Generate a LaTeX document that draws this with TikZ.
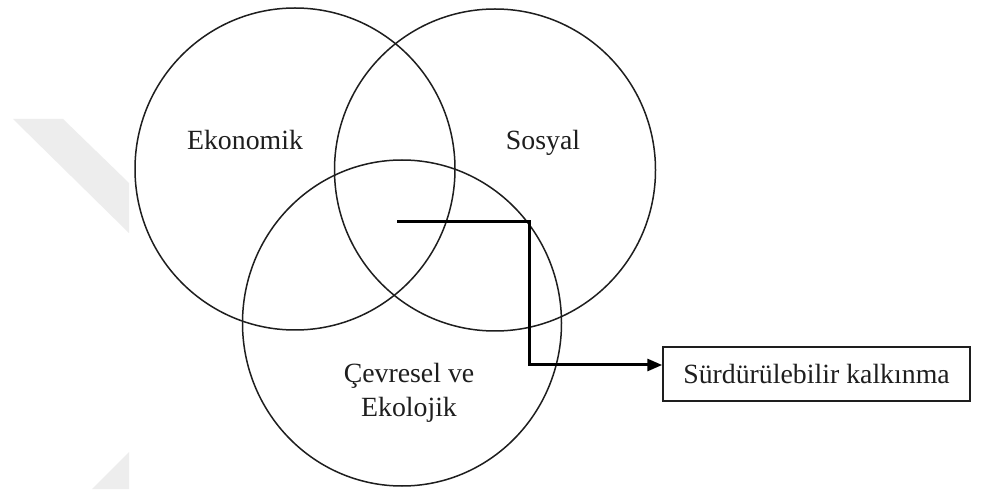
\documentclass[tikz,border=0pt]{standalone}
\usepackage{fontspec}
\setmainfont{Liberation Serif}
\usetikzlibrary{arrows.meta,shapes.geometric}
\definecolor{wm}{HTML}{EDEDED}
\definecolor{ink}{HTML}{1E1E1E}
\begin{document}
\begin{tikzpicture}[x=1pt,y=-1pt,
  ring/.style={draw=ink,line width=1.5pt,ellipse,inner sep=0pt},
  lbl/.style={text=ink,font=\fontsize{27.8}{34}\selectfont,inner sep=0pt,align=center},
  resultbox/.style={draw=ink,line width=1.5pt,minimum width=307pt,minimum height=54pt,inner sep=0pt,text=ink,font=\fontsize{27.8}{34}\selectfont},
  link/.style={draw=black,line width=3pt,-{Triangle[length=15pt,width=12pt]}}]
\useasboundingbox (0,0) rectangle (983,494);
\fill[white] (0,0) rectangle (983,494);
% faint watermark
\fill[wm] (13,119) -- (63,119) -- (129,183) -- (129,233) -- cycle;
\fill[wm] (92,489) -- (129,452) -- (129,489) -- cycle;
% circles
\node[ring,minimum width=320pt,minimum height=322pt] (eko) at (295,169) {};
\node[ring,minimum width=321pt,minimum height=322pt] (sos) at (495,170) {};
\node[ring,minimum width=319pt,minimum height=326pt] (cev) at (402,323) {};
% labels
\node[lbl,anchor=base] (ekoT) at (245,150) {Ekonomik};
\node[lbl,anchor=base] (sosT) at (543,150) {Sosyal};
\node[lbl] (cevT) at (409,393) {Çevresel ve\\Ekolojik};
% result box
\node[resultbox] (sk) at (816.5,374) {Sürdürülebilir kalkınma};
% connector
\coordinate (start) at (397,222);
\coordinate (bend) at (529,365);
\draw[link] (start) -| (bend) -- (bend -| sk.west);
\end{tikzpicture}
\end{document}
